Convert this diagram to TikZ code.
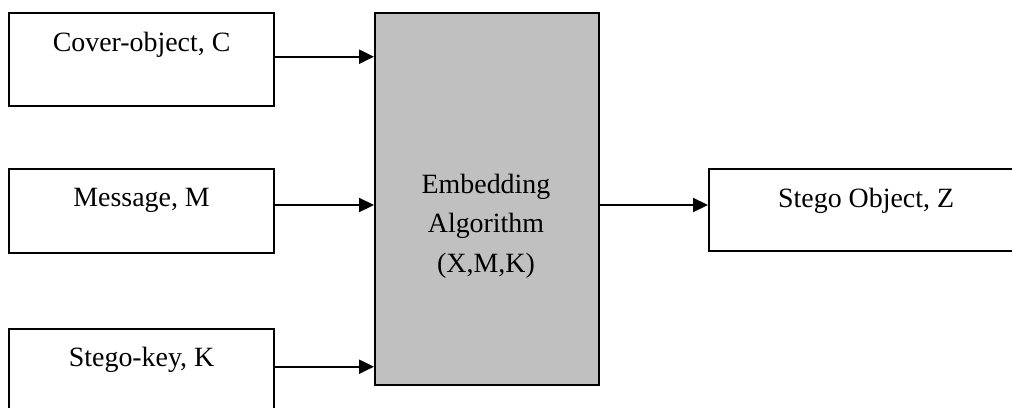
\documentclass[tikz,border=0pt]{standalone}
\usepackage{fontspec}
\setmainfont{Liberation Serif}
\usetikzlibrary{arrows.meta}
\begin{document}
\begin{tikzpicture}[x=1bp,y=-1bp,
  inbox/.style={draw=black, line width=2.2bp, fill=white, inner sep=0pt, align=center,
    font=\fontsize{28}{32}\selectfont},
  algbox/.style={draw=black, line width=2.2bp, fill=algogray, inner sep=0pt},
  flow/.style={line width=2.2bp, -{Triangle[length=15bp,width=14bp]}}]
\definecolor{algogray}{HTML}{C0C0C0}
\useasboundingbox (0,0) rectangle (1012,407);
% input boxes (anchored at north west; text height/depth set baseline)
\node[inbox, anchor=north west, minimum width=265bp, text height=38bp, text depth=55bp] (cover) at (8,12) {Cover-object, C};
\node[inbox, anchor=north west, minimum width=265bp, text height=37bp, text depth=47bp] (msg) at (8,168) {Message, M};
\node[inbox, anchor=north west, minimum width=265bp, text height=37bp, text depth=70bp] (key) at (8,328) {Stego-key, K};
% central box
\node[algbox, anchor=north west, minimum width=224bp, minimum height=372bp] (alg) at (374,12) {};
\node[font=\fontsize{28}{39.5}\selectfont, align=center, anchor=base, inner sep=0pt] (algtxt) at (486,272)
  {Embedding\\Algorithm\\(X,M,K)};
% output box
\node[inbox, anchor=north west, minimum width=314bp, text height=38bp, text depth=44bp] (stego) at (708,168) {Stego Object, Z};
% connectors
\draw[flow] (cover.east |- 0,56.7) -- (alg.west |- 0,56.7);
\draw[flow] (msg.east |- 0,205) -- (alg.west |- 0,205);
\draw[flow] (key.east |- 0,366.7) -- (alg.west |- 0,366.7);
\draw[flow] (alg.east |- 0,205) -- (stego.west |- 0,205);
\end{tikzpicture}
\end{document}
